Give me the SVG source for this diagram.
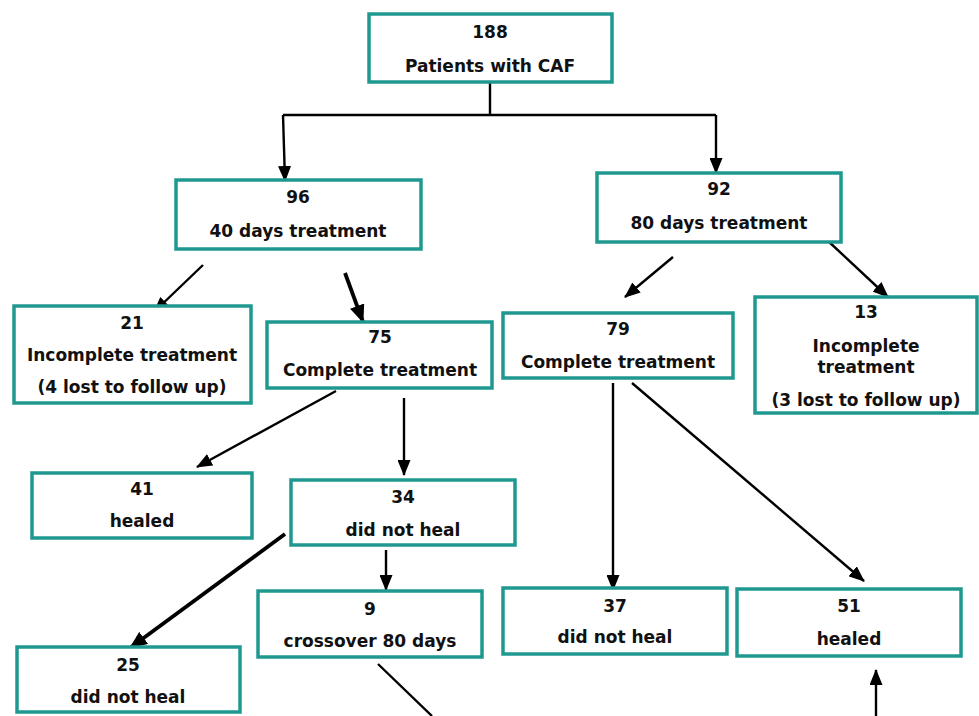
<svg xmlns="http://www.w3.org/2000/svg" width="979" height="716" viewBox="0 0 979 716">
<style>
.box{fill:#fff;stroke:#1f9990;stroke-width:3.5}
text{font-family:"DejaVu Sans","Verdana",sans-serif;font-weight:bold;font-size:17px;fill:#111;text-anchor:middle}
.c{fill:none;stroke:#000;stroke-width:2.4}
.thick{stroke-width:3.8}
</style>
<defs>
<marker id="ah" viewBox="0 0 16 13" refX="15" refY="6.5" markerWidth="16" markerHeight="13" markerUnits="userSpaceOnUse" orient="auto">
<path d="M0,0 L16,6.5 L0,13 z" fill="#000"/>
</marker>
<marker id="ahb" viewBox="0 0 18 15" refX="17" refY="7.5" markerWidth="18" markerHeight="15" markerUnits="userSpaceOnUse" orient="auto">
<path d="M0,0 L18,7.5 L0,15 z" fill="#000"/>
</marker>
</defs>
<rect width="979" height="716" fill="#fff"/>
<g id="connectors">
<path class="c" d="M490,82 V115 M283,115 H716"/>
<path class="c" d="M283,115 L285,181" marker-end="url(#ah)"/>
<path class="c" d="M716,115 V173" marker-end="url(#ah)"/>
<path class="c" d="M203,265 L154,312" marker-end="url(#ah)"/>
<path class="c thick" d="M345,273 L363,322" marker-end="url(#ahb)"/>
<path class="c" d="M673,257 L625,297" marker-end="url(#ah)"/>
<path class="c" d="M827,240 L888,297" marker-end="url(#ah)"/>
<path class="c" d="M336,391 L197,467" marker-end="url(#ah)"/>
<path class="c" d="M404,398 V475" marker-end="url(#ah)"/>
<path class="c" d="M386,550 V590" marker-end="url(#ah)"/>
<path class="c thick" d="M285,534 L130,648" marker-end="url(#ahb)"/>
<path class="c" d="M378,664 L432,716"/>
<path class="c" d="M613,383 V590" marker-end="url(#ah)"/>
<path class="c" d="M632,383 L864,581" marker-end="url(#ah)"/>
<path class="c" d="M876,716 V670" marker-end="url(#ah)"/>
</g>
<g id="n188"><rect class="box" x="369" y="14" width="243" height="68"/><text x="490" y="38">188</text><text x="490" y="72">Patients with CAF</text></g>
<g id="n96"><rect class="box" x="176" y="180" width="245" height="69"/><text x="298" y="203">96</text><text x="298" y="237">40 days treatment</text></g>
<g id="n92"><rect class="box" x="597" y="173" width="244" height="69"/><text x="719" y="195">92</text><text x="719" y="229">80 days treatment</text></g>
<g id="n21"><rect class="box" x="14" y="306" width="237" height="97"/><text x="132" y="329">21</text><text x="132" y="361">Incomplete treatment</text><text x="132" y="393">(4 lost to follow up)</text></g>
<g id="n75"><rect class="box" x="267" y="322" width="225" height="66"/><text x="380" y="343">75</text><text x="380" y="376">Complete treatment</text></g>
<g id="n79"><rect class="box" x="503" y="313" width="230" height="65"/><text x="618" y="335">79</text><text x="618" y="368">Complete treatment</text></g>
<g id="n13"><rect class="box" x="755" y="297" width="222" height="116"/><text x="866" y="318">13</text><text x="866" y="352">Incomplete</text><text x="866" y="373">treatment</text><text x="866" y="406">(3 lost to follow up)</text></g>
<g id="n41"><rect class="box" x="32" y="473" width="220" height="65"/><text x="142" y="495">41</text><text x="142" y="527">healed</text></g>
<g id="n34"><rect class="box" x="291" y="480" width="224" height="65"/><text x="403" y="503">34</text><text x="403" y="536">did not heal</text></g>
<g id="n9"><rect class="box" x="258" y="591" width="224" height="66"/><text x="370" y="615">9</text><text x="370" y="647">crossover 80 days</text></g>
<g id="n25"><rect class="box" x="17" y="647" width="223" height="65"/><text x="128" y="671">25</text><text x="128" y="703">did not heal</text></g>
<g id="n37"><rect class="box" x="503" y="588" width="224" height="66"/><text x="615" y="612">37</text><text x="615" y="643">did not heal</text></g>
<g id="n51"><rect class="box" x="737" y="589" width="224" height="67"/><text x="849" y="612">51</text><text x="849" y="645">healed</text></g>
</svg>
